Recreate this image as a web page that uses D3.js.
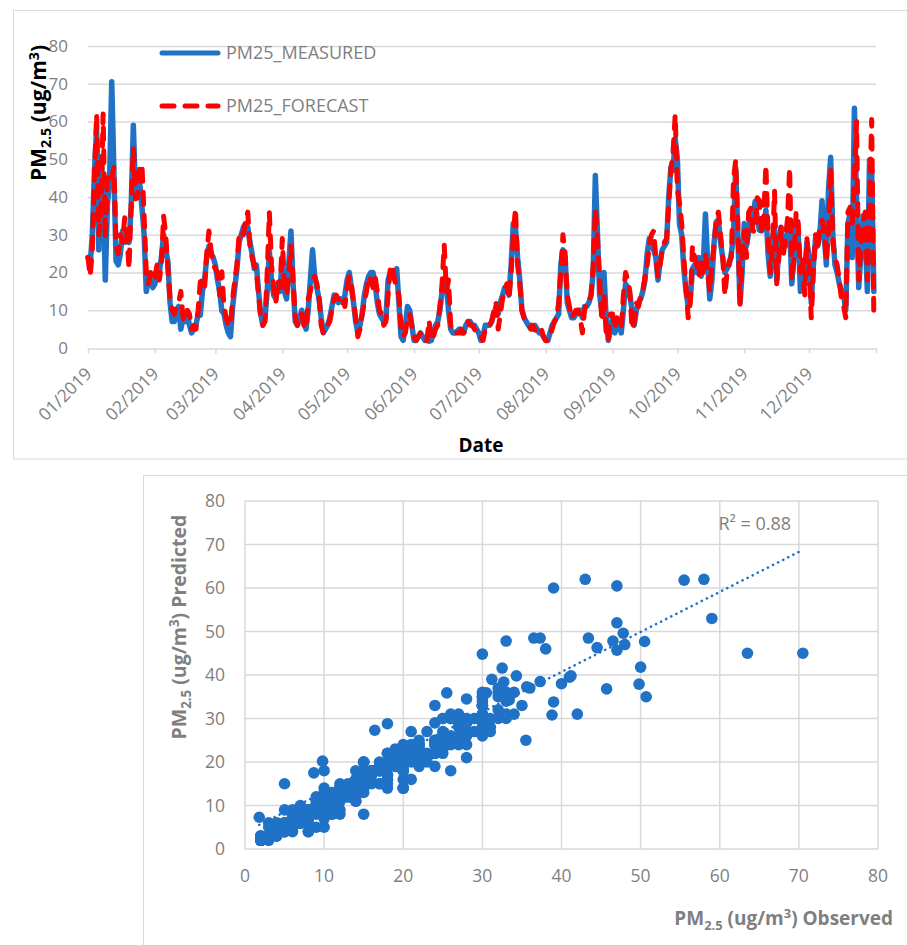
<!DOCTYPE html>
<html>
<head>
<meta charset="utf-8">
<script src="https://cdn.jsdelivr.net/npm/d3@7"></script>
<style>
  body { margin: 0; background: #fff; }
  svg { display: block; font-family: "Open Sans", sans-serif; }
</style>
</head>
<body>
<svg id="chart" width="907" height="945"></svg>
<script>
// daily PM2.5, Jan 1 .. Dec 31 2019 (one row per month)
const measured = [
    24, 22, 30, 47, 58, 26, 50.7, 43, 18, 38, 44.5, 70.5, 46.5, 23, 22, 25, 31, 28, 29, 28, 37.3, 59, 41, 41.2, 43.4, 37.3, 30, 15, 18, 18, 16,
    17, 20, 20, 24, 30, 26, 23, 12, 7, 7, 10, 11, 5, 8, 7, 9, 6, 4, 5, 6, 9, 8.7, 15, 18, 24, 27, 25, 24,
    22, 18, 15, 9.8, 9, 6, 4, 3, 11, 16, 21, 28, 30, 32, 33, 32, 28, 25, 21, 22, 15, 9, 6, 8, 15, 25.5, 18, 14, 13, 17, 15,
    24, 15, 13, 22, 31, 17, 7, 6, 8, 10, 7, 5, 10, 18, 26, 19, 16, 13, 8, 4, 5, 6, 8, 11, 14, 13, 12, 13, 12, 14,
    18, 20, 16, 12, 7, 4, 6, 9, 14, 17, 19, 20, 20, 17, 12, 9, 8, 7, 8, 18, 20, 19, 20, 21, 12, 3, 2, 6, 11, 10, 6,
    2, 2, 3, 4, 3, 2, 2, 1.8, 2, 4, 6, 7, 10, 15, 16.4, 17, 10, 5, 4, 4, 4.5, 5, 4, 4, 6, 7, 7, 6, 6, 5,
    4, 2, 3, 6, 6, 6, 7, 9, 11, 9, 12, 14, 16, 16, 14, 22, 33, 32, 24, 18, 10, 8, 7, 6, 6, 5, 6, 5, 4, 4, 3,
    2, 2, 4, 6, 7, 8, 9, 22, 26, 24, 12, 10, 8, 8, 9, 10, 10, 8, 11, 11, 12, 14, 20, 45.7, 30, 14, 10, 20, 8, 2, 5,
    8, 4, 6, 7, 4, 10, 17, 16, 14, 10, 6, 10, 12, 13, 15, 18, 25, 29, 27, 26, 24, 18, 23, 26, 27, 28, 40, 48, 47, 55.5,
    50, 32.7, 30, 21, 15, 11, 13, 21, 22, 20, 24, 19, 22, 35.5, 23, 13, 18, 28, 33.4, 34, 28, 24, 20, 21, 22, 25, 30, 47.8, 30, 12, 20,
    33, 27, 30.5, 36, 34, 38.8, 34.3, 31.2, 31, 32, 36.5, 25, 19, 28, 32.5, 18, 26, 32, 28, 27, 30, 33, 17, 25, 33, 30, 15, 22, 20, 28,
    24, 12, 22, 29, 27, 30, 39, 30, 22, 42, 50.5, 30, 22, 20, 17, 15, 14, 10, 33, 35.6, 24, 63.5, 39, 16, 25, 35, 30, 15, 49.8, 47, 15
];
const forecast = [
    24, 19, 26, 45.7, 62, 30, 35, 62, 28.8, 46, 46.3, 45, 47.8, 27, 25, 30, 28, 34.5, 30, 21, 38.5, 53, 39.5, 39.8, 48.5, 48.5, 35, 20, 17, 20, 18,
    19, 22, 18, 22, 35, 30, 21, 13, 10, 9, 11, 12, 15, 8, 7, 10, 9, 5, 6, 5, 10, 17.5, 18, 16, 25, 31, 26, 22,
    21, 20, 14, 20.2, 11, 8, 6, 6, 13, 18, 22, 30, 31, 30, 34, 36, 27, 24, 22, 20, 14, 8, 6, 7, 20, 35.9, 22, 16, 12, 18, 16,
    29, 16, 14, 20, 27, 18, 8, 6, 7, 9, 6, 5, 13, 15, 18, 19, 17, 14, 6, 4, 5, 6, 7, 10, 13, 14, 13, 12, 13, 11,
    16, 19, 17, 12, 8, 3, 5, 9, 12, 15, 19, 18, 16, 19, 15, 10, 9, 6, 7, 14, 21, 22, 18, 16, 14, 5, 3, 4, 8, 9, 6,
    3, 2, 3, 4, 3, 2, 2, 7.3, 2, 3, 5, 6, 11, 17, 27.3, 15, 18, 6, 4, 4, 4, 4, 5, 4, 5, 7, 6, 6, 5, 4,
    4, 3, 2, 5, 6, 6, 7, 10, 12, 5, 9, 13, 15, 17, 13, 20, 30, 37, 22, 17, 10, 8, 7, 6, 5, 6, 5, 4, 4, 5, 3,
    2, 2, 3, 5, 7, 8, 12, 20, 30, 25, 14, 11, 8, 9, 10, 10, 8, 4, 10, 12, 12, 14, 22, 36.8, 29, 18, 7, 14, 4, 2, 9,
    9, 5, 8, 6, 5, 14, 20, 18, 15, 5, 7, 12, 11, 14, 15, 19, 22, 27, 30, 31, 24, 19, 22, 26, 28, 29, 38, 47, 52, 61.8,
    41.8, 38.4, 33, 24, 16, 8, 12, 27, 24, 22, 19, 23, 20, 25, 20, 15, 22, 27, 34.3, 36, 30, 24, 14, 20, 23, 24, 44.8, 49.6, 33, 11, 24,
    31, 24, 35.9, 37, 31, 30.8, 39.8, 39, 30, 35, 48.5, 30, 20, 26, 41.6, 17, 24, 32, 24, 29, 34, 47.8, 18, 23, 36, 33, 20, 24, 14, 29,
    22, 8, 20, 30, 26, 33, 33.8, 31, 23, 31, 47.7, 28, 24, 22, 18, 13, 11, 8, 36, 37.3, 33, 45, 60, 18, 27, 33, 36, 18, 37.9, 60.5, 8
];
const seriesNames = ["PM25_MEASURED", "PM25_FORECAST"];
const monthLabels = ["01/2019", "02/2019", "03/2019", "04/2019", "05/2019", "06/2019",
    "07/2019", "08/2019", "09/2019", "10/2019", "11/2019", "12/2019"];
const valueTicks = [0, 10, 20, 30, 40, 50, 60, 70, 80];
const trendCoef = [0.92, 3.9]; // slope, intercept of the linear trend
const r2Label = "R\u00b2 = 0.88";

const blue = "#1f72c6";
const red = "#ff0000";
const grid = "#d9d9d9";
const gray = "#7f7f7f";

const svg = d3.select("#chart");
const days = d3.timeDay.range(new Date(2019, 0, 1), new Date(2020, 0, 1));

// frames
svg.append("rect").attr("x", 13.5).attr("y", 10.5).attr("width", 1000).attr("height", 448.5)
    .attr("fill", "none").attr("stroke", grid);
svg.append("rect").attr("x", 143.5).attr("y", 475.5).attr("width", 1000).attr("height", 600)
    .attr("fill", "none").attr("stroke", grid);

// ---------- time series ----------
const x = d3.scaleTime().domain([new Date(2019, 0, 1), new Date(2020, 0, 1)]).range([88, 876]);
const y = d3.scaleLinear().domain([0, 80]).range([348, 46]);

const lineChart = svg.append("g");

lineChart.append("g").selectAll("line").data(valueTicks.slice(1)).join("line")
    .attr("x1", 88).attr("x2", 876)
    .attr("y1", d => y(d) + 0.5).attr("y2", d => y(d) + 0.5)
    .attr("stroke", grid).attr("stroke-width", 1.5);

lineChart.append("g").selectAll("text").data(valueTicks).join("text")
    .attr("x", 68).attr("y", d => y(d)).attr("dy", "0.35em")
    .attr("text-anchor", "end").attr("fill", gray).attr("font-size", 17)
    .text(d => d);

const months = d3.timeMonth.range(new Date(2019, 0, 1), new Date(2020, 0, 2));
const xAxis = lineChart.append("g")
    .attr("transform", `translate(0,${y(0) + 0.5})`)
    .call(d3.axisBottom(x).tickValues(months).tickSize(5).tickSizeOuter(0)
        .tickFormat((d, i) => monthLabels[i] || ""));
xAxis.select(".domain").attr("stroke", grid).attr("stroke-width", 1.5);
xAxis.selectAll(".tick line").attr("stroke", grid).attr("stroke-width", 1.5);
xAxis.selectAll(".tick text")
    .attr("x", 0).attr("y", 0).attr("dy", "0.35em")
    .attr("transform", "translate(0,22) rotate(-45)")
    .attr("text-anchor", "end")
    .attr("fill", gray).attr("font-size", 17.5).attr("font-family", "Open Sans");

const line = d3.line().x((d, i) => x(days[i])).y(d => y(d));

lineChart.append("path").datum(measured)
    .attr("d", line).attr("fill", "none")
    .attr("stroke", blue).attr("stroke-width", 5.5)
    .attr("stroke-linejoin", "round").attr("stroke-linecap", "round");

lineChart.append("path").datum(forecast)
    .attr("d", line).attr("fill", "none")
    .attr("stroke", red).attr("stroke-width", 5)
    .attr("stroke-dasharray", "12,11")
    .attr("stroke-linejoin", "round").attr("stroke-linecap", "round");

// legend
const legend = lineChart.append("g");
[[53, blue, null], [106, red, "12,11"]].forEach(([ly, col, dash], i) => {
    legend.append("line").attr("x1", 162).attr("x2", 218).attr("y1", ly).attr("y2", ly)
        .attr("stroke", col).attr("stroke-width", 5).attr("stroke-linecap", "round")
        .attr("stroke-dasharray", dash);
    legend.append("text").attr("x", 226).attr("y", ly).attr("dy", "0.36em")
        .attr("fill", gray).attr("font-size", 18).text(seriesNames[i]);
});

lineChart.append("text").attr("x", 481).attr("y", 452)
    .attr("text-anchor", "middle").attr("font-size", 19).attr("font-weight", "bold")
    .attr("fill", "#000").text("Date");

function unitLabel(g, size, suffix) {
    g.append("tspan").text("PM");
    g.append("tspan").attr("font-size", size * 0.68).attr("dy", size * 0.25).text("2.5");
    g.append("tspan").attr("dy", -size * 0.25).text(" (ug/m");
    g.append("tspan").attr("font-size", size * 0.68).attr("dy", -size * 0.35).text("3");
    g.append("tspan").attr("dy", size * 0.35).text(")" + suffix);
}

unitLabel(lineChart.append("text")
    .attr("transform", "translate(46,113) rotate(-90)")
    .attr("text-anchor", "middle").attr("font-size", 21).attr("font-weight", "bold")
    .attr("fill", "#000"), 21, "");

// ---------- scatter ----------
const sx = d3.scaleLinear().domain([0, 80]).range([245, 878]);
const sy = d3.scaleLinear().domain([0, 80]).range([849, 501]);
const sc = svg.append("g");

sc.append("g").selectAll("line").data(valueTicks).join("line")
    .attr("x1", 245).attr("x2", 878)
    .attr("y1", d => sy(d)).attr("y2", d => sy(d))
    .attr("stroke", grid).attr("stroke-width", 1.5);
sc.append("g").selectAll("line").data(valueTicks).join("line")
    .attr("y1", 501).attr("y2", 849)
    .attr("x1", d => sx(d)).attr("x2", d => sx(d))
    .attr("stroke", grid).attr("stroke-width", 1.5);

sc.append("g").selectAll("text").data(valueTicks).join("text")
    .attr("x", 225).attr("y", d => sy(d)).attr("dy", "0.35em")
    .attr("text-anchor", "end").attr("fill", gray).attr("font-size", 17.5)
    .text(d => d);
sc.append("g").selectAll("text").data(valueTicks).join("text")
    .attr("x", d => sx(d)).attr("y", 882)
    .attr("text-anchor", "middle").attr("fill", gray).attr("font-size", 17.5)
    .text(d => d);

sc.append("g").selectAll("circle").data(measured.map((m, i) => [m, forecast[i]])).join("circle")
    .attr("cx", d => sx(d[0])).attr("cy", d => sy(d[1])).attr("r", 5.8)
    .attr("fill", blue);

const xr = d3.extent(measured);
sc.append("line")
    .attr("x1", sx(xr[0])).attr("y1", sy(trendCoef[0] * xr[0] + trendCoef[1]))
    .attr("x2", sx(xr[1])).attr("y2", sy(trendCoef[0] * xr[1] + trendCoef[1]))
    .attr("stroke", blue).attr("stroke-width", 2.6)
    .attr("stroke-dasharray", "0.1,5.6").attr("stroke-linecap", "round");

sc.append("text").attr("x", 791).attr("y", 530)
    .attr("text-anchor", "end").attr("fill", gray).attr("font-size", 18)
    .text(r2Label);

unitLabel(sc.append("text")
    .attr("x", 893).attr("y", 925)
    .attr("text-anchor", "end").attr("font-size", 19).attr("font-weight", "bold")
    .attr("fill", gray), 19, " Observed");

unitLabel(sc.append("text")
    .attr("transform", "translate(186,627) rotate(-90)")
    .attr("text-anchor", "middle").attr("font-size", 19.5).attr("font-weight", "bold")
    .attr("fill", gray), 19.5, " Predicted");
</script>
</body>
</html>
